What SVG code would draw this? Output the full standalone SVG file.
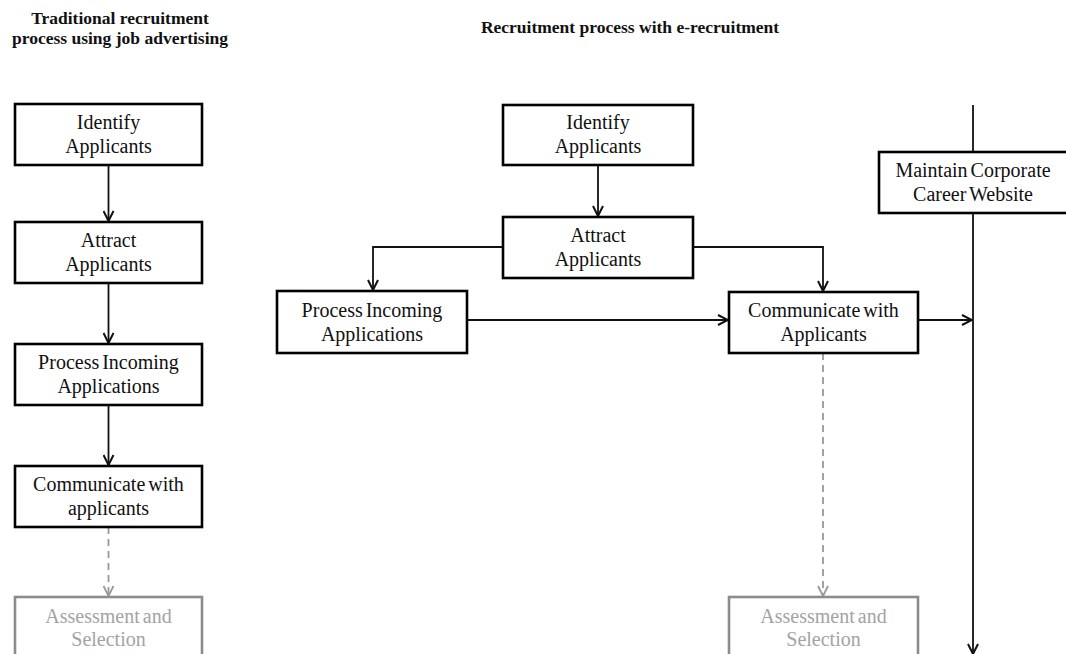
<svg xmlns="http://www.w3.org/2000/svg" width="1066" height="654" viewBox="0 0 1066 654">
<defs>
<style>
.box{fill:#fff;stroke:#000;stroke-width:2.6}
.gbox{fill:#fff;stroke:#8c8c8c;stroke-width:2.6}
.t{font-family:"Liberation Serif","Times New Roman",serif;font-size:20px;fill:#111;text-anchor:middle;word-spacing:-2px}
.gt{font-family:"Liberation Serif","Times New Roman",serif;font-size:20px;fill:#a3a3a3;text-anchor:middle;word-spacing:-2px}
.title{font-family:"Liberation Serif","Times New Roman",serif;font-size:17.5px;font-weight:bold;fill:#111;text-anchor:middle}
.c{fill:none;stroke:#111;stroke-width:1.8}
.d{fill:none;stroke:#999;stroke-width:1.8;stroke-dasharray:7 5}
</style>
<marker id="ah" viewBox="0 0 12 12" refX="11" refY="6" markerWidth="12" markerHeight="12" markerUnits="userSpaceOnUse" orient="auto">
<path d="M1,1 L11,6 L1,11" fill="none" stroke="#111" stroke-width="2"/>
</marker>
<marker id="ahg" viewBox="0 0 12 12" refX="11" refY="6" markerWidth="12" markerHeight="12" markerUnits="userSpaceOnUse" orient="auto">
<path d="M1,1 L11,6 L1,11" fill="none" stroke="#999" stroke-width="1.8"/>
</marker>
</defs>
<rect width="1066" height="654" fill="#fff"/>

<g id="titles">
<text class="title" x="120" y="24">Traditional recruitment</text>
<text class="title" x="120" y="44">process using job advertising</text>
<text class="title" x="630" y="33">Recruitment process with e-recruitment</text>
</g>

<g id="connectors">
<path class="c" d="M108.5,165 V221" marker-end="url(#ah)"/>
<path class="c" d="M108.5,283 V343" marker-end="url(#ah)"/>
<path class="c" d="M108.5,405 V465" marker-end="url(#ah)"/>
<path class="d" d="M108.5,527 V596" marker-end="url(#ahg)"/>
<path class="c" d="M598,165 V216" marker-end="url(#ah)"/>
<path class="c" d="M503,247 H373 V290" marker-end="url(#ah)"/>
<path class="c" d="M693,247 H823 V291" marker-end="url(#ah)"/>
<path class="c" d="M467,320 H728" marker-end="url(#ah)"/>
<path class="c" d="M918,320 H972" marker-end="url(#ah)"/>
<path class="d" d="M823,353 V596" marker-end="url(#ahg)"/>
<path class="c" d="M973,105 V654" marker-end="url(#ah)"/>
</g>

<g id="trad-identify">
<rect class="box" x="15" y="104" width="187" height="61"/>
<text class="t" x="108.5" y="129">Identify</text>
<text class="t" x="108.5" y="153">Applicants</text>
</g>
<g id="trad-attract">
<rect class="box" x="15" y="222" width="187" height="61"/>
<text class="t" x="108.5" y="247">Attract</text>
<text class="t" x="108.5" y="271">Applicants</text>
</g>
<g id="trad-process">
<rect class="box" x="15" y="344" width="187" height="61"/>
<text class="t" x="108.5" y="369">Process Incoming</text>
<text class="t" x="108.5" y="393">Applications</text>
</g>
<g id="trad-communicate">
<rect class="box" x="15" y="466" width="187" height="61"/>
<text class="t" x="108.5" y="491">Communicate with</text>
<text class="t" x="108.5" y="515">applicants</text>
</g>
<g id="trad-assessment">
<rect class="gbox" x="15" y="597" width="187" height="70"/>
<text class="gt" x="108.5" y="623">Assessment and</text>
<text class="gt" x="108.5" y="646">Selection</text>
</g>

<g id="e-identify">
<rect class="box" x="503" y="105" width="190" height="60"/>
<text class="t" x="598" y="129">Identify</text>
<text class="t" x="598" y="153">Applicants</text>
</g>
<g id="e-attract">
<rect class="box" x="503" y="217" width="190" height="61"/>
<text class="t" x="598" y="242">Attract</text>
<text class="t" x="598" y="266">Applicants</text>
</g>
<g id="e-process">
<rect class="box" x="277" y="291" width="190" height="62"/>
<text class="t" x="372" y="317">Process Incoming</text>
<text class="t" x="372" y="341">Applications</text>
</g>
<g id="e-communicate">
<rect class="box" x="729" y="292" width="189" height="61"/>
<text class="t" x="823.5" y="317">Communicate with</text>
<text class="t" x="823.5" y="341">Applicants</text>
</g>
<g id="e-maintain">
<rect class="box" x="879" y="152" width="190" height="61"/>
<text class="t" x="973" y="177">Maintain Corporate</text>
<text class="t" x="973" y="201">Career Website</text>
</g>
<g id="e-assessment">
<rect class="gbox" x="729" y="597" width="189" height="70"/>
<text class="gt" x="823.5" y="623">Assessment and</text>
<text class="gt" x="823.5" y="646">Selection</text>
</g>
</svg>
